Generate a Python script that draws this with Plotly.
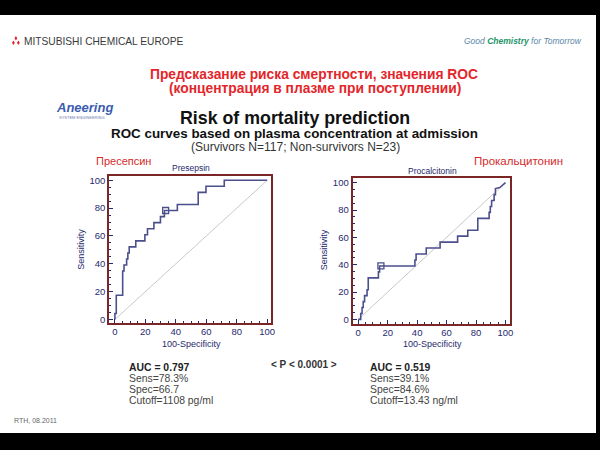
import plotly.graph_objects as go

W, H = 600, 450
FONT = "Liberation Sans, Arial, sans-serif"
NAVY = "#1f2a6e"
CURVE = "#4b4f8c"
FRAME = "#7a2626"

# ---- data ----
presepsin_x = [0, 0, 0.9, 0.9, 5.1, 5.1, 6.0, 6.0, 7.7, 7.7, 8.5, 8.5, 9.4, 9.4,
               13.7, 13.7, 19.7, 19.7, 21.4, 21.4, 25.6, 25.6, 29.9, 29.9, 32.5, 32.5,
               41.0, 41.0, 54.7, 54.7, 59.8, 59.8, 71.8, 71.8, 100]
presepsin_y = [0, 4.3, 4.3, 17.4, 17.4, 34.8, 34.8, 39.1, 39.1, 43.5, 43.5, 47.8, 47.8, 52.2,
               52.2, 56.5, 56.5, 60.9, 60.9, 65.2, 65.2, 69.6, 69.6, 73.9, 73.9, 78.3,
               78.3, 82.6, 82.6, 91.3, 91.3, 95.7, 95.7, 100, 100]
presepsin_cut = (33.3, 78.3)

pct_x = [0, 1.7, 1.7, 2.6, 2.6, 3.4, 3.4, 4.3, 4.3, 6.0, 6.0, 6.8, 6.8, 13.7, 13.7, 14.5, 14.5,
         38.5, 38.5, 39.3, 39.3, 46.2, 46.2, 55.6, 55.6, 67.5, 67.5, 74.4, 74.4, 81.2, 81.2,
         88.9, 88.9, 89.7, 89.7, 90.6, 90.6, 92.3, 92.3, 93.2, 93.2, 96.2, 100]
pct_y = [0, 0, 4.3, 4.3, 8.7, 8.7, 13.0, 13.0, 17.4, 17.4, 21.7, 21.7, 30.4, 30.4, 34.8, 34.8, 39.1,
         39.1, 43.5, 43.5, 47.8, 47.8, 52.2, 52.2, 56.5, 56.5, 60.9, 60.9, 65.2, 65.2, 73.9,
         73.9, 78.3, 78.3, 82.6, 82.6, 87.0, 87.0, 91.3, 91.3, 95.7, 96.4, 100]
pct_cut = (15.4, 39.1)

diag = [0, 100]
ticks = [0, 20, 40, 60, 80, 100]


def px(x):
    return x / W


def py(y):
    return 1 - y / H


fig = go.Figure()

for xs, ys, cut, ax in [(presepsin_x, presepsin_y, presepsin_cut, ""),
                        (pct_x, pct_y, pct_cut, "2")]:
    fig.add_trace(go.Scatter(x=diag, y=diag, mode="lines", line=dict(color="#c9c9c9", width=1),
                             xaxis="x" + ax, yaxis="y" + ax, showlegend=False, hoverinfo="skip"))
    fig.add_trace(go.Scatter(x=xs, y=ys, mode="lines", line=dict(color=CURVE, width=1.6),
                             xaxis="x" + ax, yaxis="y" + ax, showlegend=False))
    fig.add_trace(go.Scatter(x=[cut[0]], y=[cut[1]], mode="markers",
                             marker=dict(symbol="square-open", size=6, color=CURVE, line=dict(width=1.3)),
                             xaxis="x" + ax, yaxis="y" + ax, showlegend=False))

axis_common = dict(showgrid=False, zeroline=False, showline=True, mirror=True,
                   linecolor=FRAME, linewidth=2, ticks="inside", ticklen=4, tickcolor=NAVY,
                   tickvals=ticks, tickfont=dict(family=FONT, size=9.5, color=NAVY),
                   minor=dict(dtick=5, ticks="inside", ticklen=2, tickcolor=NAVY))

fig.update_layout(
    width=W, height=H, margin=dict(l=0, r=0, t=0, b=0),
    paper_bgcolor="black", plot_bgcolor="white",
    xaxis=dict(domain=[px(110), px(273)], range=[-3.7, 102.6], anchor="y", ticklabelstandoff=-1, **axis_common),
    yaxis=dict(domain=[py(324), py(176)], range=[-2.4, 103.2], anchor="x", **axis_common),
    xaxis2=dict(domain=[px(355), px(513)], range=[-3.8, 102.8], anchor="y2", ticklabelstandoff=-2, **axis_common),
    yaxis2=dict(domain=[py(325.5), py(178.5)], range=[-3.6, 103.2], anchor="x2", **axis_common),
)

# white slide body between the black top and bottom bands
shapes = [
    dict(type="rect", xref="paper", yref="paper", x0=0, x1=1, y0=py(435), y1=py(14),
         fillcolor="white", line=dict(width=0), layer="below"),
]
# Mitsubishi three-diamond mark
for cx, cy in [(16, 37.5), (13.5, 42), (18.5, 42)]:
    d = 2.3
    path = (f"M {px(cx)} {py(cy - d)} L {px(cx + d * 0.6)} {py(cy)} "
            f"L {px(cx)} {py(cy + d)} L {px(cx - d * 0.6)} {py(cy)} Z")
    shapes.append(dict(type="path", xref="paper", yref="paper", path=path,
                       fillcolor="#e0202a", line=dict(width=0)))
fig.update_layout(shapes=shapes)


def txt(x, y, s, size, color, xanchor="center", bold=False, angle=0):
    fig.add_annotation(x=px(x), y=py(y), xref="paper", yref="paper", text=s, showarrow=False,
                       xanchor=xanchor, yanchor="middle", textangle=angle,
                       font=dict(family=FONT, size=size, color=color,
                                 weight="bold" if bold else "normal"))


txt(22, 40.5, "MITSUBISHI CHEMICAL EUROPE", 10.2, "#3a3a3a", xanchor="left")
txt(588, 40.5, ("<i><span style='color:#5a86a6'>Good </span>"
                "<b><span style='color:#1f9468'>Chemistry</span></b>"
                "<span style='color:#5a86a6'> for Tomorrow</span></i>"), 8.5, "#5a86a6", xanchor="right")

txt(316, 74, "Предсказание риска смертности, значения ROC", 13.8, "#e3262b", bold=True)
txt(317, 88.5, "(концентрация в плазме при поступлении)", 13.8, "#e3262b", bold=True)

txt(54, 107, "<i><b>Aneering</b></i>", 13, "#3a5cb0", xanchor="left")
txt(57, 117, "SYSTEM ENGINEERING", 4, "#6a7ab0", xanchor="left")

txt(297, 117.5, "Risk of mortality prediction", 17.8, "#111111", bold=True)
txt(296, 133, "ROC curves based on plasma concentration at admission", 13.4, "#111111", bold=True)
txt(297, 146.5, "(Survivors N=117; Non-survivors N=23)", 12, "#333333")

txt(95, 161, "Пресепсин", 11, "#d42a2a", xanchor="left")
txt(569, 161, "Прокальцитонин", 11.5, "#d42a2a", xanchor="right")

txt(192, 168.5, "Presepsin", 8.5, NAVY)
txt(435, 171.5, "Procalcitonin", 8.5, NAVY)

txt(82, 250, "Sensitivity", 9, NAVY, angle=-90)
txt(327, 250, "Sensitivity", 9, NAVY, angle=-90)
txt(193, 345.5, "100-Specificity", 9, NAVY)
txt(435, 345, "100-Specificity", 9, NAVY)

txt(128, 369, "AUC = 0.797", 10.4, "#222222", xanchor="left", bold=True)
txt(128, 380.5, "Sens=78.3%", 10.4, "#444444", xanchor="left")
txt(128, 391, "Spec=66.7", 10.4, "#444444", xanchor="left")
txt(128, 402, "Cutoff=1108 pg/ml", 10.4, "#444444", xanchor="left")

txt(306, 365.5, "< P < 0.0001 >", 10, "#333333", bold=True)

txt(370, 369, "AUC = 0.519", 10.4, "#222222", xanchor="left", bold=True)
txt(370, 380.5, "Sens=39.1%", 10.4, "#444444", xanchor="left")
txt(370, 391, "Spec=84.6%", 10.4, "#444444", xanchor="left")
txt(370, 402, "Cutoff=13.43 ng/ml", 10.4, "#444444", xanchor="left")

txt(12, 422, "RTH, 08.2011", 7, "#666666", xanchor="left")

post = (
    "var st=document.createElement('style');"
    "st.textContent='html,body{margin:0;padding:0;overflow:hidden;scrollbar-width:none;}"
    "::-webkit-scrollbar{display:none;width:0;height:0;}';"
    "document.head.appendChild(st);"
    "window.scrollTo(0,0);"
)
fig.write_html("out.html", config={"displayModeBar": False}, post_script=post)
